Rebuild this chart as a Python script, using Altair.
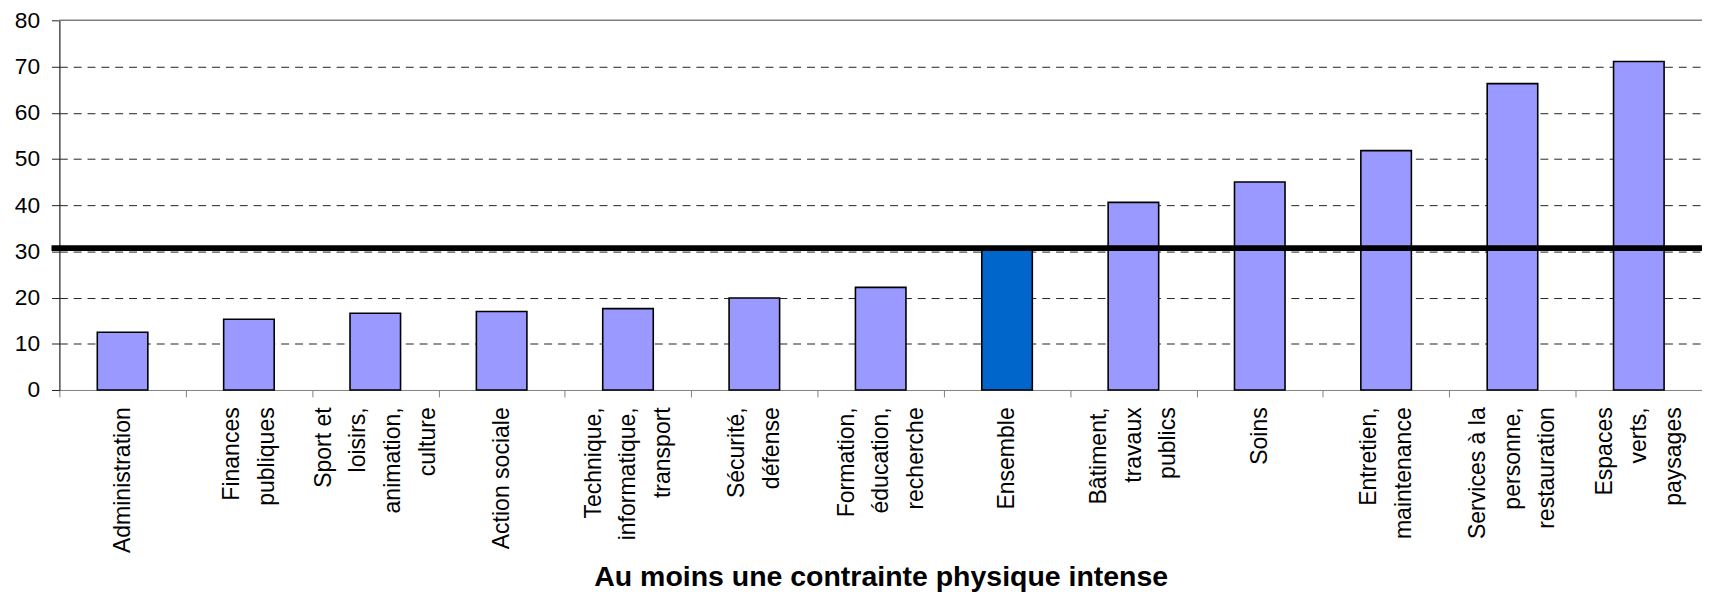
import altair as alt
import pandas as pd

# ---- data ----
categories = [
    "Administration",
    "Finances|publiques",
    "Sport et|loisirs,|animation,|culture",
    "Action sociale",
    "Technique,|informatique,|transport",
    "Sécurité,|défense",
    "Formation,|éducation,|recherche",
    "Ensemble",
    "Bâtiment,|travaux|publics",
    "Soins",
    "Entretien,|maintenance",
    "Services à la|personne,|restauration",
    "Espaces|verts,|paysages",
]
values = [12.5, 15.3, 16.6, 17.0, 17.6, 19.9, 22.2, 30.7, 40.6, 45.0, 51.8, 66.3, 71.1]
groups = ["autre"] * 7 + ["ensemble"] + ["autre"] * 5
ensemble_line = [30.7]
y_ticks = [0, 10, 20, 30, 40, 50, 60, 70, 80]
y_max = [80]
x_title = "Au moins une contrainte physique intense"

W = 1662
H = 374
FONT = "Liberation Sans"
LH = 35  # label line height

df = pd.DataFrame({"cat": categories, "val": values, "grp": groups})
ref_df = pd.DataFrame({"ref": ensemble_line})
top_df = pd.DataFrame({"top": y_max})

nlines = "length(split(datum.label, '|'))"
label_offset = {
    "condition": [
        {"test": f"{nlines} == 2", "value": -LH / 2},
        {"test": f"{nlines} == 3", "value": -LH},
        {"test": f"{nlines} == 4", "value": -1.5 * LH},
    ],
    "value": 0,
}

x_enc = alt.X(
    "cat:N",
    sort=categories,
    scale=alt.Scale(paddingInner=0, paddingOuter=0),
    axis=alt.Axis(
        title=x_title,
        titleFont=FONT,
        titleFontSize=28.8,
        titleFontWeight="bold",
        titleColor="black",
        titlePadding=10,
        labelAngle=270,
        labelAlign="right",
        labelBaseline="middle",
        labelFont=FONT,
        labelFontSize=23.3,
        labelColor="black",
        labelLineHeight=LH,
        labelPadding=10,
        labelOverlap=False,
        labelLimit=400,
        labelOffset=label_offset,
        labelExpr="split(datum.label, '|')",
        tickBand="extent",
        tickSize=7,
        tickColor="#808080",
        domainColor="#808080",
        grid=False,
    ),
)

y_scale = alt.Scale(domain=[0, 80], nice=False, zero=True)

bars = (
    alt.Chart(df)
    .mark_bar(width=alt.RelativeBandSize(0.4), stroke="black", strokeWidth=1.6)
    .encode(
        x=x_enc,
        y=alt.Y(
            "val:Q",
            scale=y_scale,
            axis=alt.Axis(
                title=None,
                values=y_ticks,
                grid=True,
                gridDash=[8, 6],
                gridColor="#202020",
                gridWidth=1,
                gridOpacity={
                    "condition": {"test": "datum.value <= 0 || datum.value >= 80", "value": 0},
                    "value": 1,
                },
                domainColor="#202020",
                domainWidth=1.2,
                tickColor="#202020",
                tickSize=8,
                labelPadding=12,
                labelFont=FONT,
                labelFontSize=23,
                labelColor="black",
            ),
        ),
        color=alt.Color(
            "grp:N",
            scale=alt.Scale(domain=["autre", "ensemble"], range=["#9999FF", "#0066CC"]),
            legend=None,
        ),
    )
)

top_border = (
    alt.Chart(top_df)
    .mark_rule(color="#808080", strokeWidth=1.5)
    .encode(y=alt.Y("top:Q", scale=y_scale), x=alt.value(0), x2=alt.value(W))
)

ref_line = (
    alt.Chart(ref_df)
    .mark_rule(color="black", strokeWidth=6)
    .encode(y=alt.Y("ref:Q", scale=y_scale), x=alt.value(-8), x2=alt.value(W))
)

chart = (
    alt.layer(bars, top_border, ref_line)
    .properties(
        width=W,
        height=H,
        autosize=alt.AutoSizeParams(type="none"),
        padding={"left": 52, "top": 9, "right": 0, "bottom": 206},
        background="white",
    )
    .configure_view(stroke=None)
)

chart.save("out.html", embed_options={"renderer": "svg", "actions": False})
